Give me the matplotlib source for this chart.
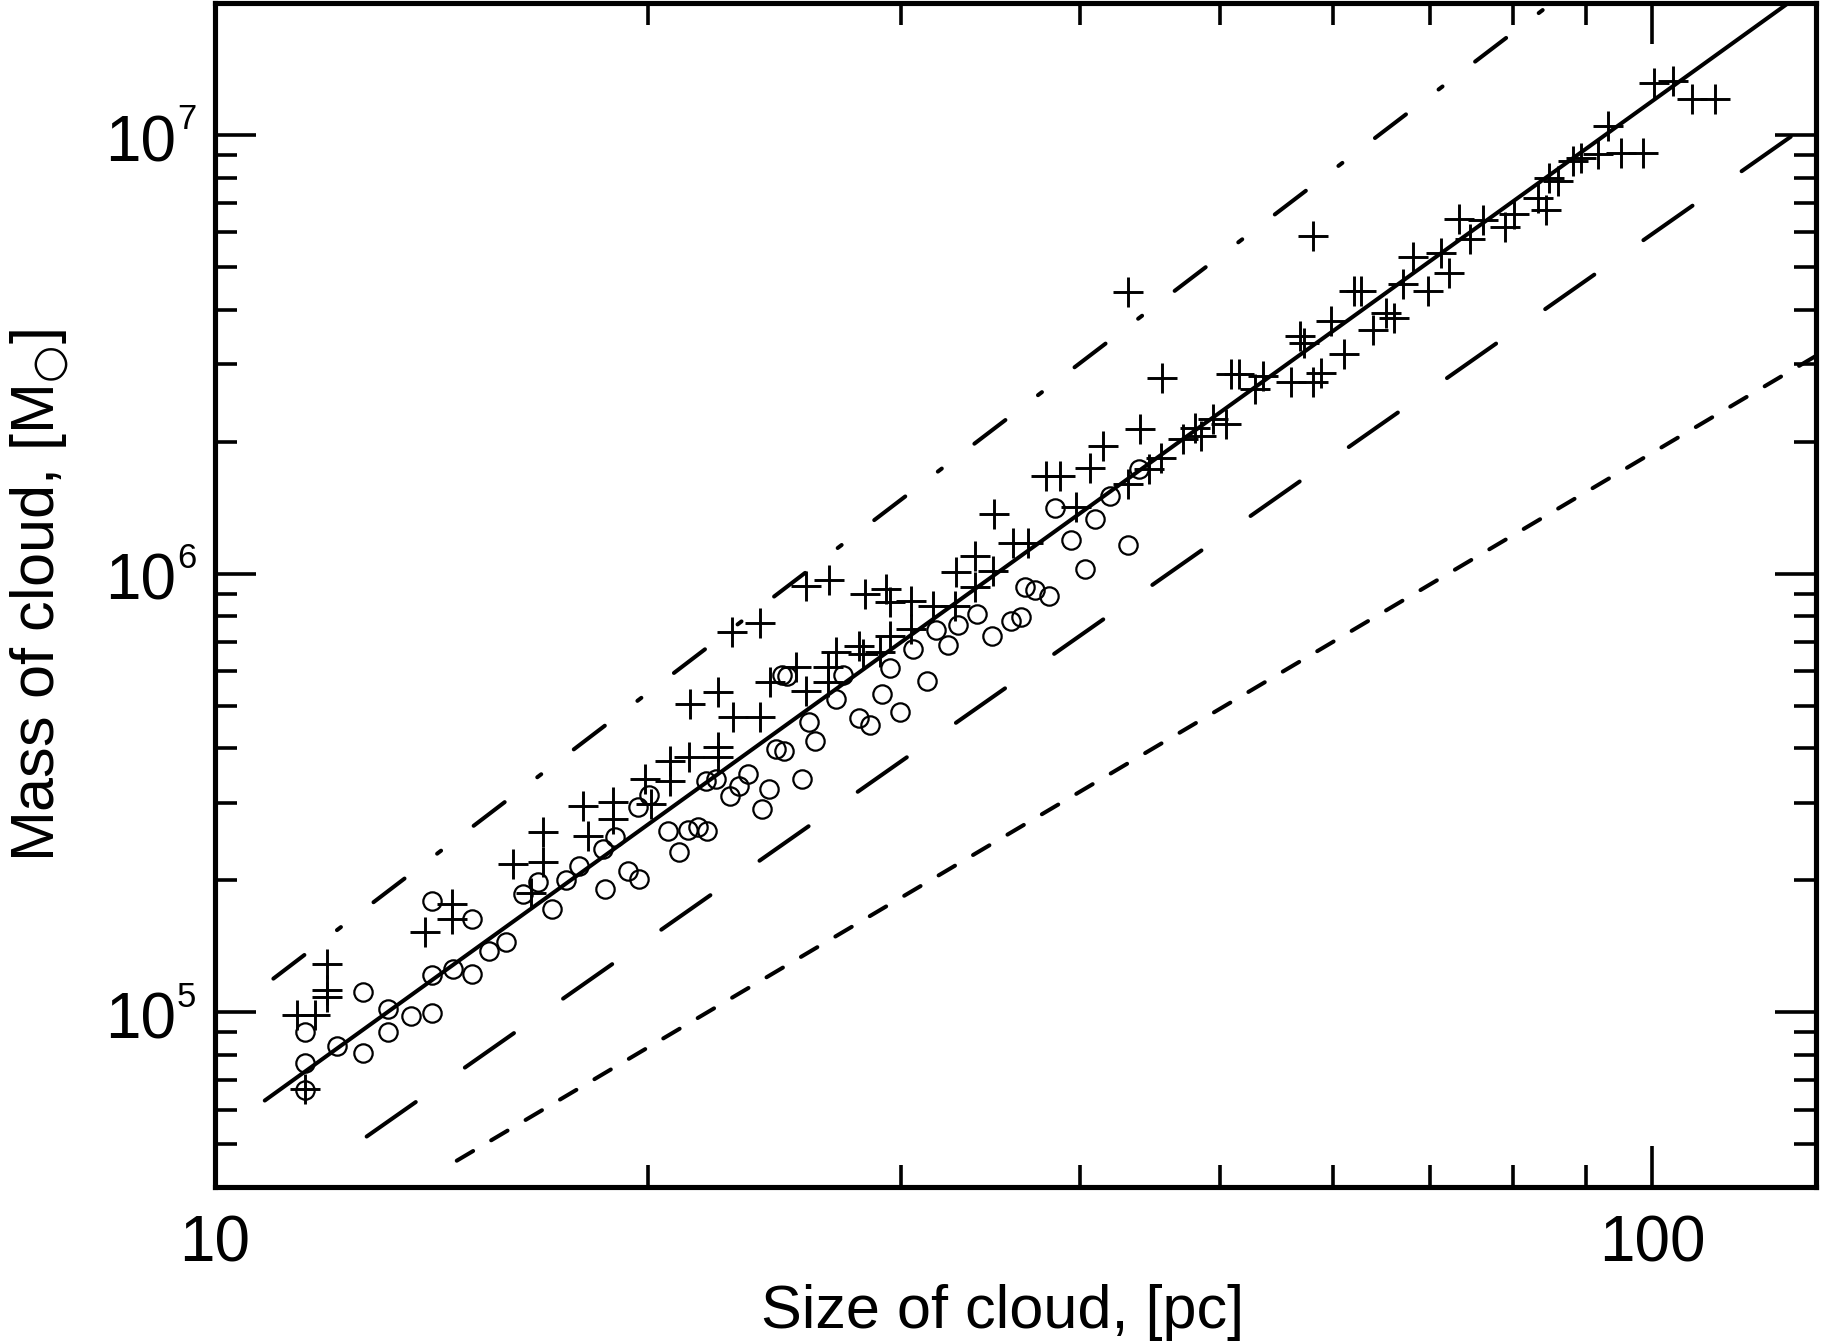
import numpy as np
import matplotlib
matplotlib.use("Agg")
import matplotlib.pyplot as plt
from matplotlib.ticker import FixedLocator, NullFormatter, LogLocator

plt.rcParams['font.family'] = ['Liberation Sans', 'DejaVu Sans']
plt.rcParams['mathtext.fontset'] = 'custom'
plt.rcParams['mathtext.rm'] = 'Liberation Sans'
plt.rcParams['mathtext.it'] = 'Liberation Sans:italic'
plt.rcParams['mathtext.bf'] = 'Liberation Sans:bold'
plt.rcParams['lines.scale_dashes'] = False

# ---------------- data ----------------
# clouds shown with "+" : size [pc], mass [Msun]
plus_size = [11.56, 11.40, 11.73, 11.96, 11.96, 11.96, 14.00, 14.62, 14.62, 16.12,
             16.92, 16.92, 18.18, 18.02, 18.92, 18.92, 19.91, 20.12, 20.72, 20.72,
             21.37, 22.39, 22.39, 21.39, 22.39, 22.94, 23.93, 24.32, 25.38, 25.79,
             26.70, 26.70, 28.23, 22.91, 23.93, 25.76, 26.74, 27.06, 28.08, 29.00,
             28.31, 29.32, 29.47, 29.47, 30.51, 30.51, 31.59, 32.70, 32.79, 33.77,
             33.77, 34.77, 34.86, 35.90, 36.78, 37.88, 38.70, 40.60, 41.47, 43.99,
             39.74, 43.17, 44.68, 45.52, 47.14, 48.03, 48.56, 49.45, 50.52, 52.88,
             56.02, 58.06, 45.58, 43.21, 50.93, 51.62, 53.58, 58.84, 61.07, 58.06,
             56.83, 57.28, 59.79, 62.06, 62.73, 63.90, 65.29, 66.17, 67.06, 68.14,
             69.79, 71.31, 72.26, 73.34, 74.69, 76.21, 79.03, 80.17, 83.21, 84.35,
             84.80, 85.93, 88.03, 89.22, 91.62, 93.09, 95.11, 98.47, 100.3, 103.3,
             106.5, 110.6, 16.59]
plus_mass = [6.70e4, 9.84e4, 9.84e4, 1.291e5, 1.126e5, 1.083e5, 1.524e5, 1.768e5, 1.634e5, 2.182e5,
             2.575e5, 2.200e5, 2.531e5, 2.961e5, 3.013e5, 2.762e5, 3.406e5, 2.993e5, 3.750e5, 3.377e5,
             3.815e5, 4.020e5, 3.815e5, 5.050e5, 5.365e5, 4.706e5, 4.706e5, 5.654e5, 6.117e5, 5.413e5,
             6.117e5, 5.654e5, 6.564e5, 7.350e5, 7.706e5, 9.391e5, 9.674e5, 6.618e5, 6.855e5, 6.618e5,
             8.993e5, 9.229e5, 8.603e5, 7.225e5, 8.679e5, 7.482e5, 8.455e5, 8.455e5, 1.007e6, 1.099e6,
             9.307e5, 1.016e6, 1.368e6, 1.175e6, 1.178e6, 1.672e6, 1.672e6, 1.741e6, 1.957e6, 2.143e6,
             1.416e6, 1.601e6, 1.732e6, 1.840e6, 2.027e6, 2.154e6, 2.063e6, 2.251e6, 2.193e6, 2.634e6,
             2.742e6, 2.742e6, 2.791e6, 4.377e6, 2.860e6, 2.860e6, 2.825e6, 2.874e6, 3.166e6, 5.888e6,
             3.484e6, 3.364e6, 3.770e6, 4.412e6, 4.412e6, 3.596e6, 3.937e6, 3.823e6, 4.570e6, 5.274e6,
             4.412e6, 5.395e6, 4.857e6, 6.427e6, 5.786e6, 6.403e6, 6.170e6, 6.598e6, 7.196e6, 6.738e6,
             7.991e6, 7.855e6, 8.726e6, 8.878e6, 9.037e6, 1.048e7, 9.115e6, 9.115e6, 1.315e7, 1.327e7,
             1.210e7, 1.210e7, 1.867e5]

# clouds shown with open circles
circ_size = [11.56, 11.56, 11.56, 12.15, 12.68, 12.68, 13.20, 13.20, 13.69, 14.16,
             14.16, 14.16, 14.65, 15.10, 15.10, 15.51, 15.94, 16.39, 16.77, 17.17,
             17.54, 17.91, 18.67, 18.62, 18.99, 19.38, 19.73, 19.70, 20.05, 20.67,
             21.03, 21.34, 21.68, 21.98, 21.95, 22.33, 22.81, 23.15, 23.49, 24.02,
             24.29, 24.58, 24.87, 24.82, 25.00, 25.59, 25.90, 26.14, 27.06, 27.35,
             28.08, 28.58, 29.09, 29.51, 29.95, 30.59, 31.28, 31.72, 32.35, 32.87,
             33.89, 34.74, 35.81, 36.39, 36.59, 37.17, 38.03, 39.43, 40.27, 38.38,
             40.93, 41.93, 43.17, 43.94]
circ_mass = [9.02e4, 7.68e4, 6.64e4, 8.37e4, 1.112e5, 8.09e4, 1.019e5, 9.02e4, 9.79e4, 1.793e5,
             1.214e5, 9.98e4, 1.257e5, 1.221e5, 1.634e5, 1.379e5, 1.451e5, 1.864e5, 1.981e5, 1.723e5,
             2.009e5, 2.162e5, 1.913e5, 2.360e5, 2.507e5, 2.098e5, 2.016e5, 2.935e5, 3.138e5, 2.598e5,
             2.318e5, 2.608e5, 2.643e5, 2.598e5, 3.365e5, 3.406e5, 3.122e5, 3.289e5, 3.497e5, 2.911e5,
             3.232e5, 3.987e5, 3.937e5, 5.888e5, 5.857e5, 3.406e5, 4.585e5, 4.150e5, 5.183e5, 5.872e5,
             4.686e5, 4.529e5, 5.309e5, 6.108e5, 4.832e5, 6.738e5, 5.706e5, 7.442e5, 6.891e5, 7.653e5,
             8.095e5, 7.205e5, 7.814e5, 7.982e5, 9.307e5, 9.172e5, 8.910e5, 1.191e6, 1.025e6, 1.413e6,
             1.332e6, 1.505e6, 1.165e6, 1.732e6]

# relations (straight in log-log): end points
solid_size = [10.83, 130.0]
solid_mass = [6.297e4, 2.22e7]
dashdot_size = [10.98, 130.0]
dashdot_mass = [1.194e5, 5.76e7]
longdash_size = [12.75, 130.0]
longdash_mass = [5.213e4, 1.088e7]
shortdash_size = [14.73, 130.0]
shortdash_mass = [4.592e4, 3.138e6]

xticks_major = [10, 100]
xtick_labels = ['10', '100']
xticks_minor = [20, 30, 40, 50, 60, 70, 80, 90]
yticks_major = [1e5, 1e6, 1e7]
ytick_exponents = ['5', '6', '7']

# ---------------- figure ----------------
fig = plt.figure(figsize=(18.21, 13.43), dpi=100)
ax = fig.add_axes([0.11807, 0.11616, 0.87919, 0.88161])
ax.set_xscale('log')
ax.set_yscale('log')
ax.set_xlim(10, 130)
ax.set_ylim(4e4, 2e7)

lw = 2.9
ax.plot(solid_size, solid_mass, color='black', lw=lw, solid_capstyle='round')
ax.plot(dashdot_size, dashdot_mass, color='black', lw=lw, dash_capstyle='round',
        dashes=(28.1, 29.5, 3.6, 29.5))
ax.plot(longdash_size, longdash_mass, color='black', lw=lw, dash_capstyle='round',
        dashes=(43.2, 43.2))
ax.plot(shortdash_size, shortdash_mass, color='black', lw=lw, dash_capstyle='round',
        dashes=(13.7, 15.1))

ax.plot(circ_size, circ_mass, linestyle='none', marker='o', ms=13.2,
        mfc='none', mec='black', mew=1.6)
ax.plot(plus_size, plus_mass, linestyle='none', marker='+', ms=21.6,
        mec='black', mew=2.1)

# ticks
ax.xaxis.set_major_locator(FixedLocator(xticks_major))
ax.xaxis.set_minor_locator(FixedLocator(xticks_minor))
ax.set_xticks(xticks_major, labels=xtick_labels)
ax.xaxis.set_minor_formatter(NullFormatter())
ax.yaxis.set_major_locator(FixedLocator(yticks_major))
ax.yaxis.set_minor_locator(LogLocator(base=10, subs=np.arange(2, 10)))
ax.yaxis.set_major_formatter(NullFormatter())
ax.yaxis.set_minor_formatter(NullFormatter())

ax.tick_params(which='both', direction='in', top=True, right=True, width=2.6, color='black')
ax.tick_params(which='major', length=29.5)
ax.tick_params(which='minor', length=15.5)
ax.tick_params(axis='x', which='major', labelsize=46, pad=20)

ytr = ax.get_yaxis_transform()
for val, ex in zip(yticks_major, ytick_exponents):
    ax.annotate('10', xy=(0, val), xycoords=ytr, xytext=(-38.5, -26),
                textcoords='offset pixels', ha='right', va='baseline', fontsize=46,
                annotation_clip=False)
    ax.annotate(ex, xy=(0, val), xycoords=ytr, xytext=(-38.0, 5.7),
                textcoords='offset pixels', ha='left', va='baseline', fontsize=25,
                annotation_clip=False)

for s in ax.spines.values():
    s.set_linewidth(3.7)

ax.set_xlabel('Size of cloud, [pc]', fontsize=44, va='baseline')
ax.xaxis.set_label_coords(0.492, -0.1193)
ax.set_ylabel('Mass of cloud, [M$_{\u25CB}$]', fontsize=44, va='baseline',
              ha='center', rotation_mode='anchor', math_fontfamily='dejavusans')
ax.yaxis.set_label_coords(-0.0999, 0.5)

fig.savefig('out.png', dpi=100)
